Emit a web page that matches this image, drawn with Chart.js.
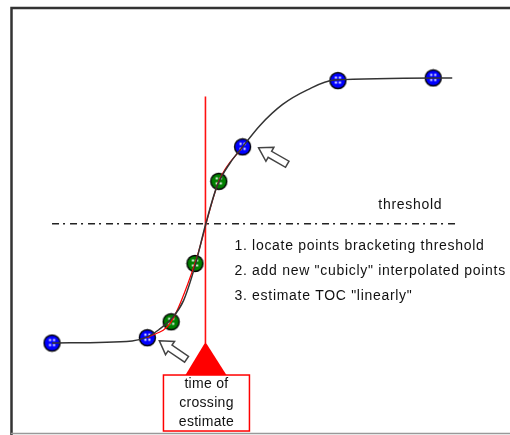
<!DOCTYPE html>
<html>
<head>
<meta charset="utf-8">
<script src="https://cdn.jsdelivr.net/npm/chart.js@4"></script>
<style>
  body { margin: 0; background: #fff; }
  #wrap { width: 510px; height: 435px; }
</style>
</head>
<body>
<div id="wrap"><canvas id="tocChart" width="510" height="435"></canvas></div>
<script>
// sampled points (time, value)
const sampleT = [0, 1, 2, 3, 4];
const sampleV = [0, 0.02, 0.74, 0.99, 1.0];
// cubic interpolated points between the bracketing samples
const interpT = [1.25, 1.5, 1.75];
const interpV = [0.08, 0.30, 0.61];
// underlying signal
const curveT = [0, 0.84, 1, 1.12, 1.26, 1.38, 1.5, 1.61, 1.73, 1.87, 2, 2.18, 2.42, 2.68, 2.96, 4.2];
const curveV = [0, 0.008, 0.023, 0.05, 0.094, 0.16, 0.29, 0.445, 0.59, 0.68, 0.74, 0.82, 0.90, 0.955, 0.992, 1.0];
// red interpolation through bracketing samples + new points
const redT = [1, 1.25, 1.5, 1.75, 2];
const redV = [0.02, 0.08, 0.30, 0.61, 0.74];
const threshold = 0.45;
const thresholdSpan = [0, 4.25];
const crossingT = 1.61;
const crossingTop = 0.93;
const steps = ['1. locate points bracketing threshold',
               '2. add new "cubicly" interpolated points',
               '3. estimate TOC "linearly"'];
const boxLines = ['time of', 'crossing', 'estimate'];

function pts(xs, ys) { return xs.map((x, i) => ({ x: x, y: ys[i] })); }

function marker(fill) {
  const c = document.createElement('canvas');
  c.width = 19; c.height = 19;
  const g = c.getContext('2d');
  g.beginPath();
  g.arc(9.5, 9.5, 8, 0, Math.PI * 2);
  g.fillStyle = fill;
  g.fill();
  g.lineWidth = 1.4;
  g.strokeStyle = '#000';
  g.stroke();
  g.fillStyle = '#fff';
  [[6.5, 5.5], [10.5, 5.5], [6.5, 10.5], [10.5, 10.5]].forEach(p => g.fillRect(p[0], p[1], 2, 2));
  return c;
}

function drawArrow(ctx, tx, ty, ang) {
  const shape = [[0, 0], [13, -8], [13, -3.5], [33, -3.5], [33, 3.5], [13, 3.5], [13, 8]];
  ctx.save();
  ctx.translate(tx, ty);
  ctx.rotate(ang);
  ctx.beginPath();
  shape.forEach((p, i) => i ? ctx.lineTo(p[0], p[1]) : ctx.moveTo(p[0], p[1]));
  ctx.closePath();
  ctx.fillStyle = '#fff';
  ctx.fill();
  ctx.lineWidth = 1.5;
  ctx.strokeStyle = '#444';
  ctx.stroke();
  ctx.restore();
}

const decor = {
  id: 'decor',
  beforeDraw(chart) {
    const ctx = chart.ctx;
    ctx.save();
    ctx.fillStyle = '#fff';
    ctx.fillRect(0, 0, chart.width, chart.height);
    ctx.strokeStyle = '#333';
    ctx.lineWidth = 2.5;
    ctx.beginPath();
    ctx.moveTo(11.5, 435); ctx.lineTo(11.5, 8); ctx.lineTo(510, 8);
    ctx.stroke();
    ctx.strokeStyle = '#999';
    ctx.lineWidth = 1.5;
    ctx.beginPath();
    ctx.moveTo(11, 433.5); ctx.lineTo(510, 433.5);
    ctx.stroke();
    ctx.restore();
  },
  afterDatasetsDraw(chart) {
    const ctx = chart.ctx;
    const xs = chart.scales.x, ys = chart.scales.y;
    const cx = xs.getPixelForValue(crossingT);
    const base = ys.getPixelForValue(0);
    const ty = ys.getPixelForValue(threshold);
    ctx.save();
    // triangle marking the crossing estimate
    ctx.fillStyle = '#ff0000';
    ctx.beginPath();
    ctx.moveTo(cx, base - 1);
    ctx.lineTo(cx - 20, base + 32);
    ctx.lineTo(cx + 21, base + 32);
    ctx.closePath();
    ctx.fill();
    // box with label
    ctx.fillStyle = '#fff';
    ctx.fillRect(cx - 42, base + 32, 86, 56);
    ctx.strokeStyle = '#ff0000';
    ctx.lineWidth = 1.5;
    ctx.strokeRect(cx - 42, base + 32, 86, 56);
    ctx.fillStyle = '#111';
    ctx.font = '14px "Liberation Sans", Arial, sans-serif';
    ctx.letterSpacing = '0.3px';
    ctx.textAlign = 'center';
    ctx.textBaseline = 'middle';
    boxLines.forEach((s, i) => ctx.fillText(s, cx + 1, base + 41 + i * 19));
    ctx.letterSpacing = '0.7px';
    // threshold label
    ctx.textAlign = 'right';
    ctx.fillText('threshold', xs.getPixelForValue(4) + 9, ty - 19);
    // steps
    ctx.textAlign = 'left';
    steps.forEach((s, i) => ctx.fillText(s, cx + 29, ty + 22 + i * 25));
    // arrows pointing at the bracketing samples
    const a1 = chart.getDatasetMeta(5).data[1];
    const a2 = chart.getDatasetMeta(5).data[2];
    drawArrow(ctx, a1.x + 12, a1.y + 3, 0.6);
    drawArrow(ctx, a2.x + 16, a2.y + 1, 0.52);
    ctx.restore();
  }
};

new Chart(document.getElementById('tocChart'), {
  type: 'scatter',
  data: {
    datasets: [
      { data: pts(curveT, curveV), showLine: true, borderColor: '#333', borderWidth: 1.5,
        pointRadius: 0, cubicInterpolationMode: 'monotone' },
      { data: pts(redT, redV), showLine: true, borderColor: '#ff0000', borderWidth: 1.2,
        pointRadius: 0, cubicInterpolationMode: 'monotone' },
      { data: pts(thresholdSpan, [threshold, threshold]), showLine: true, borderColor: '#222',
        borderWidth: 1.5, borderDash: [7, 4, 2, 5], pointRadius: 0 },
      { data: pts([crossingT, crossingT], [0, crossingTop]), showLine: true, borderColor: '#ff1010',
        borderWidth: 1.6, pointRadius: 0 },
      { data: pts(interpT, interpV), pointStyle: marker('#008000'), pointRadius: 9 },
      { data: pts(sampleT, sampleV), pointStyle: marker('#0000ff'), pointRadius: 9 }
    ]
  },
  options: {
    responsive: false,
    animation: false,
    layout: { padding: 0, autoPadding: false },
    plugins: { legend: { display: false }, tooltip: { enabled: false } },
    scales: {
      x: { type: 'linear', display: false, min: -0.546, max: 4.806 },
      y: { type: 'linear', display: false, min: -0.347, max: 1.294 }
    }
  },
  plugins: [decor]
});
</script>
</body>
</html>
